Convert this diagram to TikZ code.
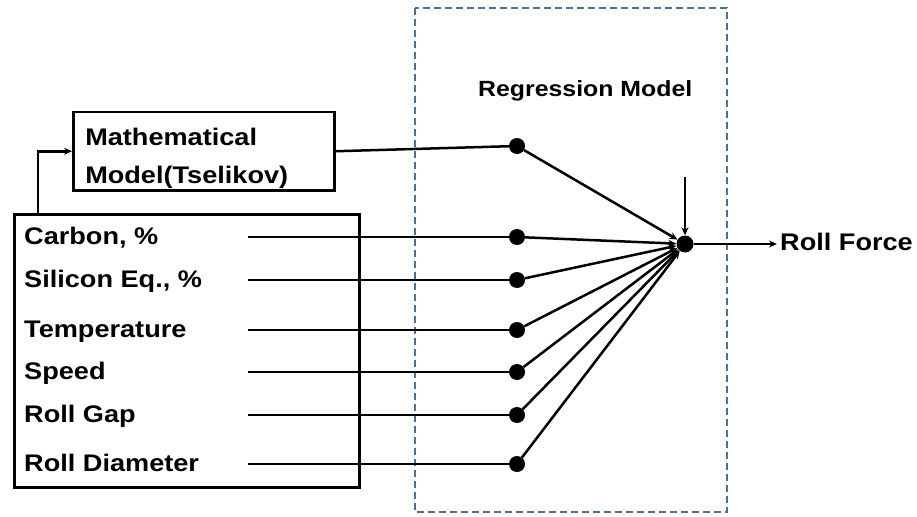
\documentclass[tikz,border=0pt]{standalone}
\usepackage{fontspec}
\setmainfont{Liberation Sans}[FakeStretch=1.13]
\usetikzlibrary{arrows.meta}
\usetikzlibrary{positioning}

\begin{document}
\begin{tikzpicture}[x=1pt, y=-1pt,
    every node/.style={inner sep=3pt, font=\bfseries\fontsize{24}{38}\selectfont},
    blockbox/.style={draw, line width=2.5pt},
    wire/.style={line width=2.5pt},
    tip/.style={-{Stealth[length=8pt,width=7pt]}},
    dot/.style={circle, fill, inner sep=0pt, minimum size=16pt}]
  \definecolor{regblue}{RGB}{74,112,160}
  \useasboundingbox (0,0) rectangle (917,516);

  \def\xlab{21}
  \def\xwire{248}
  \def\xdot{517}

  % regression block
  \draw[regblue, line width=2.5pt, dash pattern=on 7pt off 4pt] (415,8) rectangle (727,512);
  \node[anchor=base west, font=\bfseries\fontsize{22}{26}\selectfont] (reg) at (475,97) {Regression Model};

  % input block and physical model
  \node[blockbox, anchor=north west, minimum width=345pt, minimum height=273pt] (inbox) at (13,213) {};
  \node[blockbox, anchor=north west, inner xsep=12pt, inner ysep=0pt] (math) at (72,111)
    {\parbox[t][78pt][t]{237pt}{\rule{0pt}{33pt}Mathematical\\Model(Tselikov)}};
  \coordinate[right=25pt of inbox.north west] (tap);
  \draw[wire, tip] (tap) |- (math.west);

  % summing node
  \node[dot, minimum size=17pt] (sum) at (685,244) {};
  \coordinate (bias) at (685,177);
  \draw[line width=2pt, tip] (bias) -- (sum);

  \node[dot] (d0) at (\xdot,146) {};
  \draw[wire] (math.east) -- (d0);
  \draw[wire, tip] (d0) -- (sum);

  % input lines
  \foreach \txt/\yy [count=\i] in {{Carbon, \%}/237, {Silicon Eq., \%}/280, Temperature/330,
                                   Speed/372, Roll Gap/415, Roll Diameter/464} {
    \node[anchor=base west] (lab\i) at (\xlab,\yy+7) {\txt};
    \coordinate (s\i) at (\xwire,\yy);
    \node[dot] (d\i) at (\xdot,\yy) {};
    \draw[wire] (s\i) -- (d\i);
    \draw[wire, tip] (d\i) -- (sum);
  }

  % output
  \node[anchor=base west] (force) at (777,250) {Roll Force};
  \draw[wire, tip] (sum) -- (sum -| force.west);
\end{tikzpicture}
\end{document}
